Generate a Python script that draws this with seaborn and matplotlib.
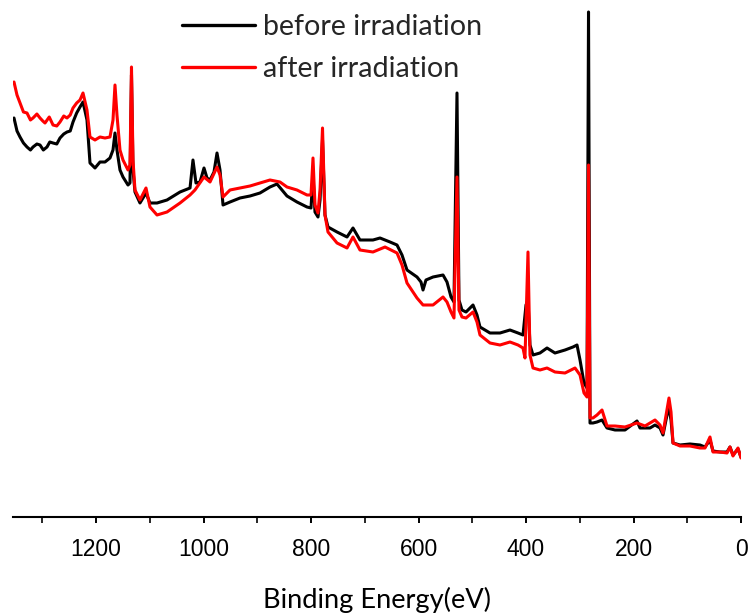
import matplotlib
matplotlib.use("Agg")
import matplotlib.pyplot as plt
from matplotlib.ticker import MultipleLocator
import pandas as pd
import seaborn as sns

# XPS survey spectra (binding energy in eV, intensity in a.u.)
energy_before = [1352.6, 1347.0, 1341.4, 1335.0, 1328.4, 1322.0, 1317.2, 1310.0, 1304.2, 1298.0,
                 1291.2, 1286.0, 1280.0, 1273.0, 1267.0, 1260.0, 1254.0, 1248.0, 1242.8, 1236.0,
                 1229.8, 1224.2, 1216.8, 1211.2, 1201.9, 1192.6, 1183.3, 1174.0, 1168.4, 1164.7,
                 1161.0, 1155.4, 1149.8, 1140.5, 1136.8, 1134.0, 1131.2, 1127.5, 1118.2, 1107.0,
                 1099.6, 1086.5, 1067.9, 1043.7, 1025.1, 1019.6, 1014.0, 1006.5, 999.1, 993.5,
                 987.9, 980.5, 974.9, 969.3, 963.7, 950.7, 932.1, 913.5, 894.9, 876.3,
                 863.3, 844.7, 826.1, 807.5, 800.0, 796.3, 792.6, 787.0, 783.2, 778.6,
                 774.0, 768.4, 751.6, 733.0, 721.9, 708.9, 684.7, 671.6, 653.0, 640.0,
                 630.7, 621.4, 602.8, 595.4, 591.6, 586.1, 573.0, 554.4, 547.0, 539.5,
                 534.0, 528.4, 524.7, 519.1, 511.6, 498.6, 491.2, 485.6, 467.0, 448.4,
                 429.8, 414.9, 405.6, 400.0, 396.3, 392.6, 387.0, 374.0, 360.9, 346.1,
                 327.4, 312.6, 305.1, 299.5, 292.1, 286.5, 283.7, 280.9, 275.4, 267.9,
                 258.6, 249.3, 234.4, 215.8, 193.5, 187.9, 169.3, 160.0, 150.7, 145.1,
                 137.7, 134.0, 130.2, 126.5, 113.5, 94.9, 76.3, 67.0, 57.7, 52.1,
                 39.1, 26.0, 20.5, 14.9, 5.6, 0.0]
intensity_before = [399, 386, 380, 374, 370, 367, 370, 373, 372, 367,
                    370, 375, 374, 373, 379, 383, 385, 386, 395, 404,
                    410, 415, 397, 354, 349, 355, 355, 359, 367, 384,
                    367, 347, 340, 332, 334, 442, 347, 325, 314, 324,
                    314, 314, 317, 325, 329, 357, 334, 335, 349, 339,
                    337, 345, 364, 347, 312, 315, 319, 321, 324, 330,
                    333, 321, 315, 310, 309, 342, 305, 300, 317, 377,
                    302, 290, 285, 280, 289, 277, 277, 279, 275, 272,
                    262, 247, 240, 235, 227, 237, 240, 242, 235, 220,
                    215, 424, 217, 207, 205, 212, 202, 190, 184, 184,
                    187, 184, 182, 212, 217, 172, 162, 164, 169, 164,
                    167, 170, 172, 157, 134, 129, 505, 94, 94, 95,
                    97, 89, 87, 87, 96, 89, 89, 92, 89, 82,
                    102, 109, 97, 74, 72, 73, 72, 70, 77, 66,
                    65, 65, 70, 62, 68, 60]

energy_after = [1352.6, 1347.0, 1341.4, 1335.0, 1328.4, 1322.0, 1317.2, 1310.0, 1304.2, 1299.0,
                1294.9, 1287.0, 1280.0, 1273.0, 1267.0, 1260.0, 1254.0, 1248.0, 1242.8, 1236.0,
                1229.8, 1224.2, 1216.8, 1211.2, 1201.9, 1192.6, 1183.3, 1174.0, 1168.4, 1164.7,
                1161.0, 1155.4, 1149.8, 1140.5, 1136.8, 1134.0, 1131.2, 1127.5, 1118.2, 1107.0,
                1099.6, 1086.5, 1067.9, 1043.7, 1025.1, 1015.9, 999.1, 987.9, 974.9, 969.3,
                963.7, 950.7, 932.1, 913.5, 894.9, 876.3, 857.7, 844.7, 826.1, 807.5,
                800.0, 796.3, 792.6, 787.0, 783.2, 778.6, 774.0, 768.4, 751.6, 733.0,
                721.9, 708.9, 684.7, 662.3, 640.0, 630.7, 621.4, 602.8, 591.6, 573.0,
                554.4, 547.0, 539.5, 534.0, 528.4, 524.7, 519.1, 511.6, 498.6, 491.2,
                485.6, 467.0, 448.4, 429.8, 414.9, 405.6, 401.9, 396.3, 392.6, 387.0,
                374.0, 360.9, 346.1, 327.4, 308.8, 299.5, 292.1, 286.5, 283.7, 280.9,
                275.4, 267.9, 258.6, 249.3, 234.4, 215.8, 193.5, 178.6, 160.0, 150.7,
                145.1, 137.7, 134.0, 130.2, 126.5, 113.5, 94.9, 76.3, 67.0, 57.7,
                52.1, 39.1, 26.0, 20.5, 14.9, 5.6, 0.0]
intensity_after = [435, 422, 414, 405, 404, 397, 399, 403, 399, 396,
                   394, 400, 392, 391, 395, 401, 399, 402, 409, 414,
                   417, 424, 407, 380, 377, 380, 379, 380, 397, 432,
                   402, 367, 357, 347, 352, 450, 357, 327, 317, 329,
                   310, 302, 305, 314, 322, 327, 340, 335, 350, 342,
                   320, 327, 329, 331, 334, 337, 335, 330, 327, 322,
                   322, 359, 312, 304, 327, 389, 302, 285, 274, 269,
                   280, 267, 265, 270, 264, 252, 234, 219, 212, 212,
                   220, 215, 205, 199, 340, 207, 200, 199, 205, 195,
                   182, 174, 172, 175, 172, 169, 159, 265, 162, 149,
                   147, 149, 145, 144, 149, 142, 124, 120, 352, 99,
                   99, 102, 107, 91, 91, 90, 94, 91, 97, 92,
                   84, 107, 119, 105, 74, 71, 71, 69, 69, 80,
                   65, 65, 64, 70, 61, 69, 59]

series_labels = ["before irradiation", "after irradiation"]
series_colors = ["#000000", "#ff0000"]
x_ticks = [1200, 1000, 800, 600, 400, 200, 0]

df = pd.concat([
    pd.DataFrame({"energy": energy_before, "intensity": intensity_before, "sample": series_labels[0]}),
    pd.DataFrame({"energy": energy_after, "intensity": intensity_after, "sample": series_labels[1]}),
], ignore_index=True)

sns.set_theme(style="ticks")
plt.rcParams["font.family"] = ["Lato", "DejaVu Sans"]

fig = plt.figure(figsize=(7.52, 6.15), dpi=100)
ax = fig.add_axes([13.4 / 752, 98 / 615, 727.6 / 752, 517 / 615])

sns.lineplot(data=df, x="energy", y="intensity", hue="sample", hue_order=series_labels,
             palette=dict(zip(series_labels, series_colors)), sort=False,
             estimator=None, linewidth=2.2, ax=ax, legend=False)

ax.set_xlim(1353.7, 0)
ax.set_ylim(0, 517)
ax.set_xticks(x_ticks)
ax.set_xticklabels([str(t) for t in x_ticks], family=["Liberation Sans", "DejaVu Sans"])
ax.xaxis.set_minor_locator(MultipleLocator(100))
ax.tick_params(axis="x", which="major", direction="out", length=4.5, width=1.4,
               labelsize=16.5, pad=10.5, colors="black")
ax.tick_params(axis="x", which="minor", direction="out", length=4.5, width=1.4)
ax.set_yticks([])
ax.set_ylabel("")
ax.set_xlabel("Binding Energy(eV)", fontsize=19.6, labelpad=18.5, color="black")

for side in ["left", "right", "top"]:
    ax.spines[side].set_visible(False)
ax.spines["bottom"].set_linewidth(1.5)
ax.spines["bottom"].set_color("black")

handles = [plt.Line2D([], [], color=c, linewidth=2.4) for c in series_colors]
leg = ax.legend(handles, series_labels, loc="upper left", bbox_to_anchor=(0.2317, 0.972),
                frameon=False, fontsize=20.6, handlelength=2.56, handletextpad=0.28,
                labelspacing=0.55, borderpad=0, borderaxespad=0)

fig.savefig("out.png", dpi=100, facecolor="white")
